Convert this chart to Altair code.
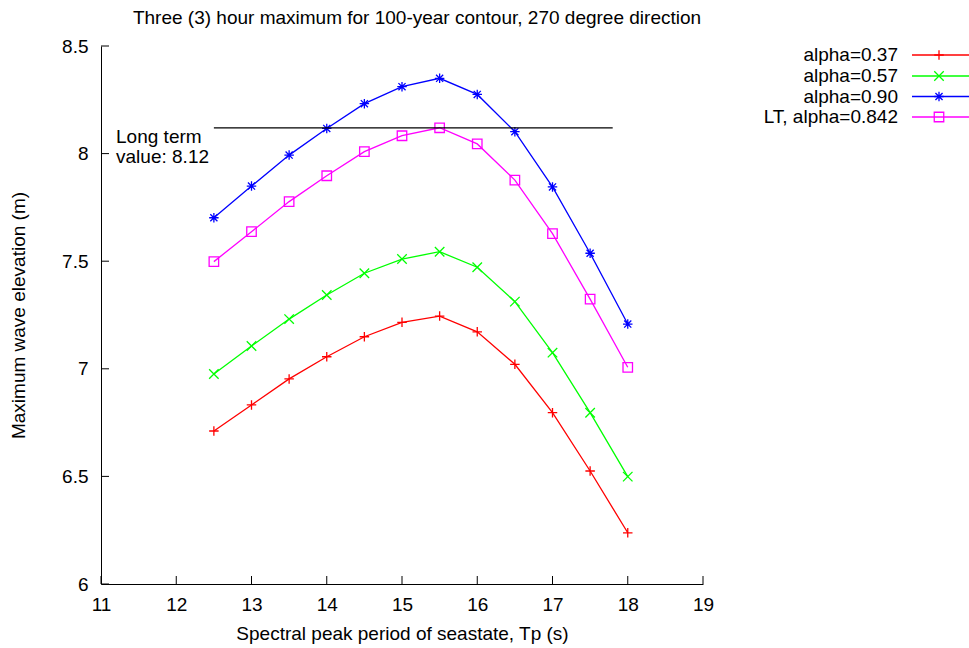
import altair as alt
import pandas as pd

# ---- data ----
series = ["alpha=0.37", "alpha=0.57", "alpha=0.90", "LT, alpha=0.842"]
colors = ["#ff0000", "#00ff00", "#0000ff", "#ff00ff"]
tp = [12.5, 13.0, 13.5, 14.0, 14.5, 15.0, 15.5, 16.0, 16.5, 17.0, 17.5, 18.0]
a037 = [6.711, 6.832, 6.953, 7.056, 7.149, 7.216, 7.245, 7.172, 7.021, 6.796, 6.525, 6.238]
a057 = [6.976, 7.106, 7.231, 7.343, 7.444, 7.510, 7.544, 7.472, 7.312, 7.075, 6.796, 6.499]
a090 = [7.702, 7.849, 7.993, 8.117, 8.232, 8.311, 8.350, 8.275, 8.102, 7.845, 7.537, 7.208]
lt842 = [7.498, 7.637, 7.777, 7.897, 8.009, 8.083, 8.120, 8.045, 7.877, 7.628, 7.324, 7.007]

long_term_value = 8.12
long_term_x = [12.5, 17.8]
long_term_label = "Long term\nvalue: 8.12"
label_pos = [11.2, 8.077]

x_ticks = [11, 12, 13, 14, 15, 16, 17, 18, 19]
y_ticks = [6.0, 6.5, 7.0, 7.5, 8.0, 8.5]

title = "Three (3) hour maximum for 100-year contour, 270 degree direction"
x_title = "Spectral peak period of seastate, Tp (s)"
y_title = "Maximum wave elevation (m)"

# ---- styles ----
FONT = "Liberation Sans"
FS = 19
W, H = 602, 538
PAD_L, PAD_T = 101, 46
shapes = [
    "M-1,0H1M0,-1V1",                                   # plus
    "M-1,-1L1,1M-1,1L1,-1",                              # cross
    "M-1,0H1M0,-1V1M-0.75,-0.75L0.75,0.75M-0.75,0.75L0.75,-0.75",  # star
    "M-1,-1H1V1H-1Z",                                    # square
]

rows = []
for name, vals in zip(series, [a037, a057, a090, lt842]):
    for x, y in zip(tp, vals):
        rows.append({"series": name, "tp": x, "val": y})
df = pd.DataFrame(rows)

xs = alt.Scale(domain=[11, 19], nice=False, zero=False)
ys = alt.Scale(domain=[6, 8.5], nice=False, zero=False)
cs = alt.Scale(domain=series, range=colors)
ss = alt.Scale(domain=series, range=shapes)

xaxis = alt.Axis(values=x_ticks, title=x_title, ticks=False, tickSize=0, labelPadding=20,
                 titleY=49, titleBaseline="middle", labelBaseline="middle", labelFlush=False,
                 format="d")
yaxis = alt.Axis(values=y_ticks, title=y_title, ticks=False, tickSize=0, labelPadding=13,
                 titleX=-83, titleBaseline="middle", format="~g")

base = alt.Chart(df)
lines = base.mark_line(strokeWidth=1.3, clip=False).encode(
    x=alt.X("tp:Q", scale=xs, axis=xaxis),
    y=alt.Y("val:Q", scale=ys, axis=yaxis),
    color=alt.Color("series:N", scale=cs, legend=None),
    detail="series:N",
)
points = base.mark_point(filled=False, strokeWidth=1.3, size=90, opacity=1).encode(
    x="tp:Q",
    y="val:Q",
    color=alt.Color("series:N", scale=cs, legend=None),
    shape=alt.Shape("series:N", scale=ss, legend=None),
)

lt_df = pd.DataFrame({"x": [long_term_x[0]], "x2": [long_term_x[1]], "y": [long_term_value]})
lt_rule = alt.Chart(lt_df).mark_rule(color="black", strokeWidth=1.3).encode(
    x="x:Q", x2="x2:Q", y="y:Q"
)
lt_text = alt.Chart(pd.DataFrame({"x": [label_pos[0]], "y": [label_pos[1]], "t": [long_term_label]})).mark_text(
    align="left", baseline="middle", font=FONT, fontSize=FS, lineBreak="\n", lineHeight=20, color="black"
).encode(x="x:Q", y="y:Q", text="t:N")

xt = alt.Chart(pd.DataFrame({"x": x_ticks})).mark_rule(color="black", strokeWidth=1).encode(
    x="x:Q", y=alt.value(H), y2=alt.value(H - 8)
)
yt = alt.Chart(pd.DataFrame({"y": y_ticks})).mark_rule(color="black", strokeWidth=1).encode(
    y="y:Q", x=alt.value(0), x2=alt.value(8)
)

# ---- legend (top right, label left of sample) ----
leg_layers = []
leg_y = [9, 30, 50.5, 71]
for i, name in enumerate(series):
    ldf = pd.DataFrame({"series": [name]})
    leg_layers.append(alt.Chart(ldf).mark_text(align="right", baseline="middle", font=FONT, fontSize=FS, color="black").encode(
        x=alt.value(797), y=alt.value(leg_y[i]), text="series:N"))
    leg_layers.append(alt.Chart(ldf).mark_rule(strokeWidth=1.3, color=colors[i]).encode(
        x=alt.value(811), x2=alt.value(868), y=alt.value(leg_y[i])))
    leg_layers.append(alt.Chart(ldf).mark_point(filled=False, strokeWidth=1.3, size=90, opacity=1,
                                                color=colors[i], shape=shapes[i]).encode(
        x=alt.value(838), y=alt.value(leg_y[i])))

chart = alt.layer(lines, points, lt_rule, lt_text, xt, yt, *leg_layers).properties(
    width=W, height=H,
    title=alt.TitleParams(title, font=FONT, fontSize=FS, fontWeight="normal", color="black",
                          anchor="middle", frame="group", dx=15, dy=20, offset=10, baseline="bottom"),
    autosize=alt.AutoSizeParams(type="none"),
    padding={"left": PAD_L, "top": PAD_T, "right": 969 - PAD_L - W, "bottom": 648 - PAD_T - H},
    background="white",
).configure_view(stroke=None).configure_axis(
    grid=False, domainColor="black", domainWidth=1, labelFont=FONT, labelFontSize=FS,
    labelColor="black", titleFont=FONT, titleFontSize=FS, titleFontWeight="normal", titleColor="black",
)

chart.save("out.html", embed_options={"renderer": "svg", "actions": False})
